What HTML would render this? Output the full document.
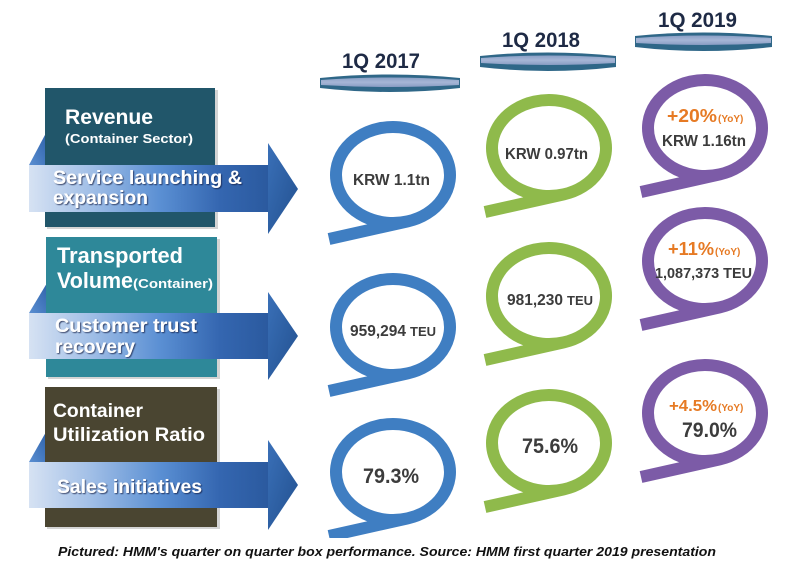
<!DOCTYPE html>
<html><head><meta charset="utf-8">
<style>
html,body{margin:0;padding:0;background:#fff;}
svg{display:block;}
text{font-family:"Liberation Sans",Arial,sans-serif;font-weight:bold;}
</style></head>
<body>
<svg width="791" height="569" viewBox="0 0 791 569" xmlns="http://www.w3.org/2000/svg">
<defs>
  <linearGradient id="shaft" x1="29" y1="0" x2="268" y2="0" gradientUnits="userSpaceOnUse">
    <stop offset="0" stop-color="#d6e2f3"/>
    <stop offset="0.25" stop-color="#a3c0e7"/>
    <stop offset="0.55" stop-color="#5a8fd3"/>
    <stop offset="0.8" stop-color="#3466b0"/>
    <stop offset="1" stop-color="#2b5a9f"/>
  </linearGradient>
  <linearGradient id="head" x1="0" y1="0" x2="1" y2="1">
    <stop offset="0" stop-color="#3a70b8"/>
    <stop offset="1" stop-color="#22508f"/>
  </linearGradient>
  <linearGradient id="fold" x1="0" y1="1" x2="1" y2="0">
    <stop offset="0" stop-color="#5b8fd2"/>
    <stop offset="1" stop-color="#2f63ab"/>
  </linearGradient>
  <linearGradient id="disc" x1="0" y1="0" x2="0" y2="1">
    <stop offset="0" stop-color="#8b9fc6"/>
    <stop offset="0.5" stop-color="#a6b6d6"/>
    <stop offset="1" stop-color="#889cc3"/>
  </linearGradient>
  <filter id="ts" x="-5%" y="-20%" width="110%" height="150%">
    <feDropShadow dx="1" dy="1" stdDeviation="0.6" flood-color="#0c1c40" flood-opacity="0.75"/>
  </filter>
</defs>

<!-- Header discs -->
<g>
  <path d="M320,78 Q390,71 460,78 L460,88 Q390,96 320,88 Z" fill="#2f6788"/>
  <path d="M321,80 Q390,75 459,80 L459,85 Q390,89 321,85 Z" fill="url(#disc)"/>
  <path d="M480,56 Q548,49 616,56 L616,67 Q548,75 480,67 Z" fill="#2f6788"/>
  <path d="M481,58 Q548,53 615,58 L615,63 Q548,67 481,63 Z" fill="url(#disc)"/>
  <path d="M635,36 Q703,29 772,36 L772,47 Q703,55 635,47 Z" fill="#2f6788"/>
  <path d="M636,38 Q703,33 771,38 L771,43 Q703,47 636,43 Z" fill="url(#disc)"/>
</g>
<text x="342" y="68" font-size="21" fill="#1e2a45" textLength="78" lengthAdjust="spacingAndGlyphs">1Q 2017</text>
<text x="502" y="47" font-size="21" fill="#1e2a45" textLength="78" lengthAdjust="spacingAndGlyphs">1Q 2018</text>
<text x="658" y="27" font-size="21" fill="#1e2a45" textLength="79" lengthAdjust="spacingAndGlyphs">1Q 2019</text>

<!-- Rings -->
<g fill="none" stroke-width="12" stroke-linejoin="round">
  <!-- blue -->
  <path stroke="#3f7ec2" d="M329,239 L407.7,221.4 A57,48 0 0 0 378.3,128.6 A57,48 0 0 0 407.7,221.4"/>
  <path stroke="#3f7ec2" d="M329,391 L407.7,373.4 A57,48 0 0 0 378.3,280.6 A57,48 0 0 0 407.7,373.4"/>
  <path stroke="#3f7ec2" d="M329,536 L407.7,518.4 A57,48 0 0 0 378.3,425.6 A57,48 0 0 0 407.7,518.4"/>
  <!-- green -->
  <path stroke="#8fba4b" d="M485,212 L563.7,194.4 A57,48 0 0 0 534.3,101.6 A57,48 0 0 0 563.7,194.4"/>
  <path stroke="#8fba4b" d="M485,360 L563.7,342.4 A57,48 0 0 0 534.3,249.6 A57,48 0 0 0 563.7,342.4"/>
  <path stroke="#8fba4b" d="M485,507 L563.7,489.4 A57,48 0 0 0 534.3,396.6 A57,48 0 0 0 563.7,489.4"/>
  <!-- purple -->
  <path stroke="#7c5ba7" d="M641,192 L719.7,174.4 A57,48 0 0 0 690.3,81.6 A57,48 0 0 0 719.7,174.4"/>
  <path stroke="#7c5ba7" d="M641,325 L719.7,307.4 A57,48 0 0 0 690.3,214.6 A57,48 0 0 0 719.7,307.4"/>
  <path stroke="#7c5ba7" d="M641,477 L719.7,459.4 A57,48 0 0 0 690.3,366.6 A57,48 0 0 0 719.7,459.4"/>
</g>

<!-- Ring texts -->
<g fill="#3c3c3c">
  <text x="353" y="185" font-size="16" textLength="77" lengthAdjust="spacingAndGlyphs">KRW 1.1tn</text>
  <text x="505" y="159" font-size="16" textLength="83" lengthAdjust="spacingAndGlyphs">KRW 0.97tn</text>
  <text x="662" y="146" font-size="16" textLength="84" lengthAdjust="spacingAndGlyphs">KRW 1.16tn</text>

  <text x="350" y="336" font-size="15.5"><tspan textLength="56" lengthAdjust="spacingAndGlyphs">959,294</tspan><tspan dx="4" font-size="13">TEU</tspan></text>
  <text x="507" y="305" font-size="15.5"><tspan textLength="56" lengthAdjust="spacingAndGlyphs">981,230</tspan><tspan dx="4" font-size="13">TEU</tspan></text>
  <text x="655" y="278" font-size="15" textLength="97" lengthAdjust="spacingAndGlyphs">1,087,373 TEU</text>

  <text x="363" y="483" font-size="21" textLength="56" lengthAdjust="spacingAndGlyphs">79.3%</text>
  <text x="522" y="453" font-size="21" textLength="56" lengthAdjust="spacingAndGlyphs">75.6%</text>
  <text x="682" y="437" font-size="21" textLength="55" lengthAdjust="spacingAndGlyphs">79.0%</text>
</g>
<g fill="#e67a24">
  <text x="667" y="122" font-size="18"><tspan textLength="50" lengthAdjust="spacingAndGlyphs">+20%</tspan><tspan font-size="10" dx="1">(YoY)</tspan></text>
  <text x="668" y="255" font-size="18"><tspan textLength="46" lengthAdjust="spacingAndGlyphs">+11%</tspan><tspan font-size="10" dx="1">(YoY)</tspan></text>
  <text x="669" y="411" font-size="16"><tspan textLength="48" lengthAdjust="spacingAndGlyphs">+4.5%</tspan><tspan font-size="10" dx="1">(YoY)</tspan></text>
</g>

<!-- Left panels -->
<path d="M29,165 L46,133 L46,165 Z" fill="url(#fold)"/>
<path d="M29,313 L47,283 L47,313 Z" fill="url(#fold)"/>
<path d="M29,462 L46,432 L46,462 Z" fill="url(#fold)"/>

<rect x="47" y="90" width="171" height="139" fill="#b8b8b8" opacity="0.6"/>
<rect x="48" y="239" width="172" height="140" fill="#b8b8b8" opacity="0.6"/>
<rect x="47" y="389" width="173" height="140" fill="#b8b8b8" opacity="0.6"/>
<rect x="45" y="88" width="170" height="139" fill="#21566a"/>
<rect x="46" y="237" width="171" height="140" fill="#2e8899"/>
<rect x="45" y="387" width="172" height="140" fill="#4a4531"/>

<rect x="29" y="165" width="240" height="47" fill="url(#shaft)"/>
<path d="M268,143 L298,189 L268,234 Z" fill="url(#head)"/>
<rect x="29" y="313" width="240" height="46" fill="url(#shaft)"/>
<path d="M268,292 L298,336 L268,380 Z" fill="url(#head)"/>
<rect x="29" y="462" width="240" height="46" fill="url(#shaft)"/>
<path d="M268,440 L298,485 L268,530 Z" fill="url(#head)"/>

<g fill="#ffffff">
  <text x="65" y="124" font-size="21" textLength="88" lengthAdjust="spacingAndGlyphs">Revenue</text>
  <text x="65" y="143" font-size="13" textLength="128" lengthAdjust="spacingAndGlyphs">(Container Sector)</text>
  <text x="57" y="263" font-size="22" textLength="126" lengthAdjust="spacingAndGlyphs">Transported</text>
  <text x="57" y="288"><tspan font-size="22" textLength="76" lengthAdjust="spacingAndGlyphs">Volume</tspan><tspan font-size="13" textLength="80" lengthAdjust="spacingAndGlyphs">(Container)</tspan></text>
  <text x="53" y="417" font-size="19" textLength="90" lengthAdjust="spacingAndGlyphs">Container</text>
  <text x="53" y="441" font-size="19" textLength="152" lengthAdjust="spacingAndGlyphs">Utilization Ratio</text>
</g>
<g fill="#ffffff" filter="url(#ts)">
  <text x="53" y="184" font-size="19" textLength="189" lengthAdjust="spacingAndGlyphs">Service launching &amp;</text>
  <text x="53" y="204" font-size="19" textLength="95" lengthAdjust="spacingAndGlyphs">expansion</text>
  <text x="55" y="332" font-size="19" textLength="142" lengthAdjust="spacingAndGlyphs">Customer trust</text>
  <text x="55" y="353" font-size="19" textLength="80" lengthAdjust="spacingAndGlyphs">recovery</text>
  <text x="57" y="493" font-size="19" textLength="145" lengthAdjust="spacingAndGlyphs">Sales initiatives</text>
</g>

<rect x="0" y="538" width="791" height="31" fill="#ffffff"/>
<text x="58" y="556" font-size="13" font-style="italic" fill="#111111" textLength="658" lengthAdjust="spacingAndGlyphs">Pictured: HMM's quarter on quarter box performance. Source: HMM first quarter 2019 presentation</text>
</svg>
</body></html>
